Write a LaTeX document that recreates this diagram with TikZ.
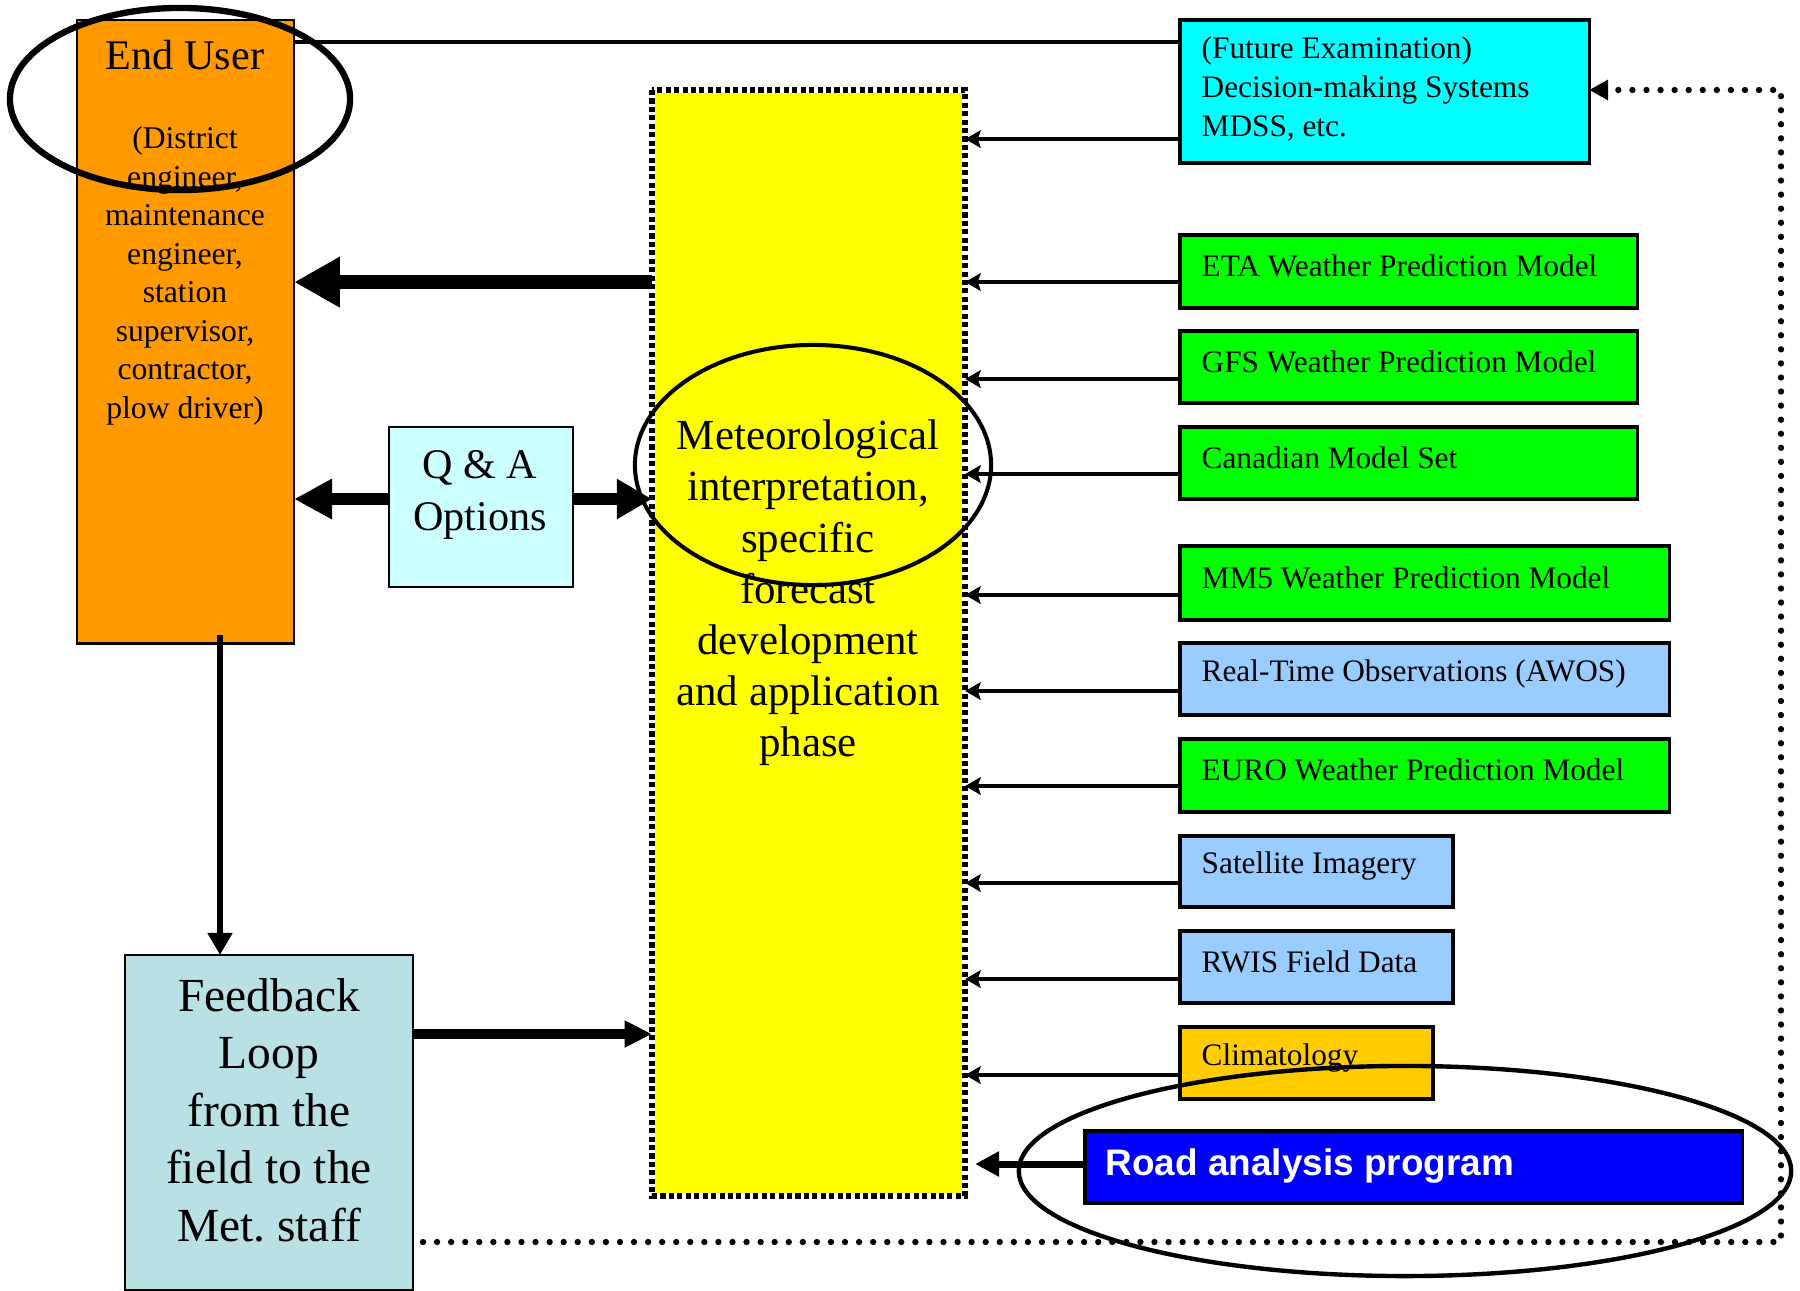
\documentclass[tikz,border=0pt]{standalone}
\usepackage{fontspec}
\setmainfont{Liberation Serif}
\newfontfamily\arialfont{Liberation Sans}
\usetikzlibrary{arrows.meta}
\definecolor{euorange}{HTML}{FF9900}
\definecolor{qacyan}{HTML}{CCFFFF}
\definecolor{dmscyan}{HTML}{00FFFF}
\definecolor{mgreen}{HTML}{00FF00}
\definecolor{lblue}{HTML}{99CCFF}
\definecolor{climgold}{HTML}{FFCC00}
\definecolor{roadblue}{HTML}{0000FF}
\definecolor{fbblue}{HTML}{B9E0E3}
\definecolor{metyellow}{HTML}{FFFF00}
\frenchspacing
\begin{document}
\begin{tikzpicture}[x=0.01cm,y=-0.01cm,
  box/.style={draw=black, line width=1pt, inner sep=0pt, outer sep=0pt, anchor=north west},
  lbox/.style={box, line width=0.7pt},
  rtxt/.style={anchor=west, inner sep=0pt, align=left, font=\fontsize{8.9}{11.1}\selectfont},
  thinarrow/.style={line width=1pt, -{Stealth[length=4.4pt,width=5pt,inset=0.8pt]}},
  ring/.style={draw=black}
]
\path[fill=white] (0,0) rectangle (1800,1291);
\useasboundingbox (0,0) rectangle (1800,1291);

% main boxes
\node[lbox, fill=euorange, minimum width=2.17cm, minimum height=6.23cm] (eu) at (77,20) {};
\node[lbox, fill=qacyan, minimum width=1.84cm, minimum height=1.60cm] (qa) at (389,427) {};
\node[lbox, fill=fbblue, minimum width=2.88cm, minimum height=3.35cm] (fb) at (125,955) {};
\node[box, draw=white, line width=1.7pt, fill=metyellow, minimum width=3.13cm, minimum height=11.05cm] (met) at (652,90) {};
\draw[line width=1.7pt, dash pattern=on 1.45pt off 0.95pt] (met.north west) rectangle (met.south east);

% right boxes
\node[box, fill=dmscyan, minimum width=4.09cm, minimum height=1.43cm] (dms) at (1180,20) {};
\node[box, fill=mgreen, minimum width=4.57cm, minimum height=0.73cm] (eta) at (1180,235) {};
\node[box, fill=mgreen, minimum width=4.57cm, minimum height=0.72cm] (gfs) at (1180,331) {};
\node[box, fill=mgreen, minimum width=4.57cm, minimum height=0.72cm] (can) at (1180,427) {};
\node[box, fill=mgreen, minimum width=4.89cm, minimum height=0.74cm] (mm5) at (1180,546) {};
\node[box, fill=lblue, minimum width=4.89cm, minimum height=0.72cm] (rt) at (1180,643) {};
\node[box, fill=mgreen, minimum width=4.89cm, minimum height=0.73cm] (euro) at (1180,739) {};
\node[box, fill=lblue, minimum width=2.73cm, minimum height=0.71cm] (sat) at (1180,836) {};
\node[box, fill=lblue, minimum width=2.73cm, minimum height=0.72cm] (rwis) at (1180,931) {};
\node[box, fill=climgold, minimum width=2.53cm, minimum height=0.72cm] (clim) at (1180,1027) {};
\node[box, fill=roadblue, minimum width=6.57cm, minimum height=0.72cm] (road) at (1085,1131) {};

% texts
\node[inner sep=0pt, font=\fontsize{12}{14}\selectfont] (eutitle) at (185,55) {End User};
\node[inner sep=0pt, align=center, font=\fontsize{9}{10.95}\selectfont] (eutext) at (185,276) {(District\\engineer,\\maintenance\\engineer,\\station\\supervisor,\\contractor,\\plow driver)};
\node[inner sep=0pt, align=center, font=\fontsize{12}{14.7}\selectfont] (qatext) at (480,495) {Q \& A\\Options};
\node[inner sep=0pt, align=center, font=\fontsize{13.5}{16.35}\selectfont] (fbtext) at (269,1110) {Feedback\\Loop\\from the\\field to the\\Met. staff};
\node[inner sep=0pt, align=center, font=\fontsize{12.2}{14.55}\selectfont] (mettext) at (808,593) {Meteorological\\interpretation,\\specific\\forecast\\development\\and application\\phase};

\node[rtxt] (dmstext) at (1201,89) {(Future Examination)\\Decision-making Systems\\MDSS, etc.};
\node[rtxt] (etatext) at (1201,266) {ETA Weather Prediction Model};
\node[rtxt] (gfstext) at (1201,362) {GFS Weather Prediction Model};
\node[rtxt] (cantext) at (1201,458) {Canadian Model Set};
\node[rtxt] (mm5text) at (1201,578) {MM5 Weather Prediction Model};
\node[rtxt] (rttext) at (1201,674) {Real-Time Observations (AWOS)};
\node[rtxt] (eurotext) at (1201,770) {EURO Weather Prediction Model};
\node[rtxt] (sattext) at (1201,866) {Satellite Imagery};
\node[rtxt] (rwistext) at (1201,962) {RWIS Field Data};
\node[rtxt] (climtext) at (1201,1058) {Climatology};
\node[anchor=west, inner sep=0pt, text=white, font=\arialfont\bfseries\fontsize{10.5}{12}\selectfont] (roadtext) at (1105,1166) {Road analysis program};

% thin arrows from sources to the yellow box
\foreach \n/\d in {dms/1.19, eta/0.47, gfs/0.48, can/0.47, mm5/0.49, rt/0.48, euro/0.47, sat/0.47, rwis/0.48, clim/0.48}{
  \draw[thinarrow] ([yshift=-\d cm]\n.north west) -- ([yshift=-\d cm]\n.north west -| met.east);
}
\draw[line width=2pt, -{Triangle[length=6.8pt,width=6.8pt]}] ([yshift=0.03cm]road.west) -- ([yshift=0.03cm,xshift=0.1cm]road.west -| met.east);

% top line
\draw[line width=1.1pt] ([yshift=-0.22cm]dms.north west) -- ([yshift=-0.22cm]dms.north west -| eu.east);

% thick arrows on the left
\draw[line width=4.2pt, -{Triangle[length=13pt,width=13.5pt]}] ([yshift=-1.92cm]met.north west) -- ([yshift=-1.92cm]met.north west -| eu.east);
\draw[line width=3.6pt, -{Triangle[length=10.8pt,width=10.8pt]}] ([yshift=0.08cm]qa.west) -- ([yshift=0.08cm]qa.west -| eu.east);
\draw[line width=3.6pt, -{Triangle[length=10pt,width=10.8pt]}] ([yshift=0.08cm]qa.east) -- ([yshift=0.08cm]qa.east -| met.west);
\draw[line width=2.65pt, -{Triangle[length=7.8pt,width=7.2pt]}] ([yshift=-0.79cm]fb.north east) -- ([yshift=-0.79cm]fb.north east -| met.west);
\coordinate (vtop) at (220,635);
\draw[line width=1.7pt, -{Triangle[length=6.3pt,width=6.8pt]}] (vtop) -- (vtop |- fb.north);

% dotted feedback loop
\coordinate (dl) at (1781,1242);
\coordinate (ul) at (1781,90);
\draw[line width=1.8pt, line cap=round, dash pattern=on 0pt off 4pt, shorten <=2.8pt, -{Triangle[length=5.4pt,width=5.6pt]}] (fb.east |- dl) -- (dl) -- (ul) -- (ul -| dms.east);

% highlight ellipses
\draw[ring, line width=1.8pt] (180,99) ellipse [x radius=1.70cm, y radius=0.91cm];
\draw[ring, line width=1.15pt] (813,465) ellipse [x radius=1.78cm, y radius=1.20cm];
\draw[ring, line width=1.25pt] (1405,1171) ellipse [x radius=3.86cm, y radius=1.05cm];
\end{tikzpicture}
\end{document}
